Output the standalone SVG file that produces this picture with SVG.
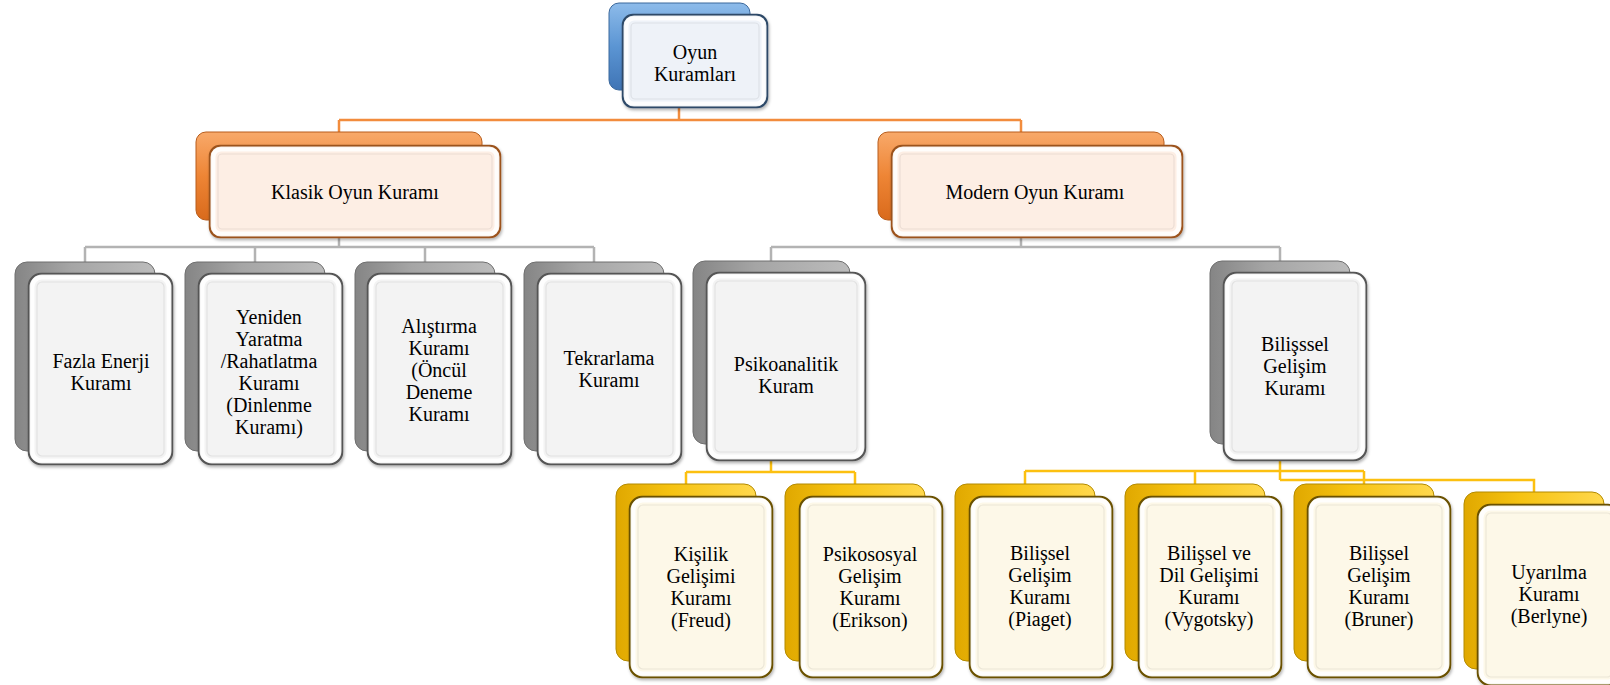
<svg xmlns="http://www.w3.org/2000/svg" width="1610" height="685" viewBox="0 0 1610 685">
<defs>
<linearGradient id="gB" x1="0" y1="0" x2="0" y2="1"><stop offset="0" stop-color="#8dbbea"/><stop offset="0.5" stop-color="#5b95d3"/><stop offset="1" stop-color="#3f74b5"/></linearGradient>
<linearGradient id="gO" x1="0" y1="0" x2="0" y2="1"><stop offset="0" stop-color="#f8a96a"/><stop offset="0.5" stop-color="#ee8535"/><stop offset="1" stop-color="#d96a1c"/></linearGradient>
<linearGradient id="gG" x1="0" y1="0" x2="1" y2="0"><stop offset="0" stop-color="#858585"/><stop offset="0.4" stop-color="#a5a5a5"/><stop offset="1" stop-color="#bcbcbc"/></linearGradient>
<linearGradient id="gY" x1="0" y1="0" x2="1" y2="0"><stop offset="0" stop-color="#e0a800"/><stop offset="0.4" stop-color="#f6c312"/><stop offset="1" stop-color="#ffd84d"/></linearGradient>
<filter id="sh" x="-10%" y="-10%" width="125%" height="125%"><feDropShadow dx="1" dy="2" stdDeviation="1.5" flood-color="#000" flood-opacity="0.3"/></filter>
</defs>
<style>
.co{stroke:#f28c3d;stroke-width:2.5;fill:none}
.cg{stroke:#b3b3b3;stroke-width:2.5;fill:none}
.cy{stroke:#fcc010;stroke-width:2.5;fill:none}
.t{font-family:"Liberation Serif","Times New Roman",serif;font-size:20px;text-anchor:middle;fill:#000}
.bb{fill:url(#gB);stroke:#3b689c;stroke-width:1}
.bo{fill:url(#gO);stroke:#b85d1c;stroke-width:1}
.bg{fill:url(#gG);stroke:#6f6f6f;stroke-width:1}
.by{fill:url(#gY);stroke:#b38a00;stroke-width:1}
.fb{fill:#eef2f8;stroke:#2d4a68;stroke-width:2.5;filter:url(#sh)}
.fo{fill:#fdeee4;stroke:#9c531d;stroke-width:2.5;filter:url(#sh)}
.fg{fill:#f3f3f3;stroke:#555;stroke-width:2.5;filter:url(#sh)}
.fy{fill:#fdf8e8;stroke:#6b5100;stroke-width:2.5;filter:url(#sh)}
.rim{fill:none;stroke:#fff;stroke-width:5;opacity:0.85}
.bev{fill:none;stroke:#000;stroke-width:1.2;opacity:0.07}
</style>

<g id="connectors">
<path class="co" d="M679,107 V120 M339,120 H1021 M339,120 V132 M1021,120 V132"/>
<path class="cg" d="M339,237 V247 M85,247 H594 M85,247 V262 M255,247 V262 M425,247 V262 M594,247 V262"/>
<path class="cg" d="M1021,237 V247 M771,247 H1280 M771,247 V261 M1280,247 V261"/>
<path class="cy" d="M771,460 V472 M686,472 H855 M686,472 V484 M855,472 V484"/>
<path class="cy" d="M1280,459 V480 M1025,471 H1364 M1025,471 V484 M1195,471 V484 M1364,471 V484 M1280,480 H1534 V492"/>
</g>

<g id="root">
<rect class="bb" x="609" y="3" width="141" height="87" rx="10"/>
<rect class="fb" x="623" y="15" width="144" height="92" rx="10"/>
<rect class="rim" x="626" y="18" width="138" height="86" rx="8"/>
<rect class="bev" x="631" y="23" width="128" height="76" rx="4"/>
<text class="t" x="695" y="59">Oyun<tspan x="695" dy="22">Kuramları</tspan></text>
</g>

<g id="klasik">
<rect class="bo" x="196" y="132" width="286" height="88" rx="10"/>
<rect class="fo" x="210" y="146" width="290" height="91" rx="10"/>
<rect class="rim" x="213" y="149" width="284" height="85" rx="8"/>
<rect class="bev" x="218" y="154" width="274" height="75" rx="4"/>
<text class="t" x="355" y="199">Klasik Oyun Kuramı</text>
</g>

<g id="modern">
<rect class="bo" x="878" y="132" width="286" height="88" rx="10"/>
<rect class="fo" x="892" y="146" width="290" height="91" rx="10"/>
<rect class="rim" x="895" y="149" width="284" height="85" rx="8"/>
<rect class="bev" x="900" y="154" width="274" height="75" rx="4"/>
<text class="t" x="1035" y="199">Modern Oyun Kuramı</text>
</g>

<g id="fazla">
<rect class="bg" x="15" y="262" width="140" height="189" rx="12"/>
<rect class="fg" x="29" y="274" width="143" height="190" rx="12"/>
<rect class="rim" x="32" y="277" width="137" height="184" rx="10"/>
<rect class="bev" x="37" y="282" width="127" height="174" rx="5"/>
<text class="t" x="101" y="368">Fazla Enerji<tspan x="101" dy="22">Kuramı</tspan></text>
</g>

<g id="yeniden">
<rect class="bg" x="185" y="262" width="140" height="189" rx="12"/>
<rect class="fg" x="199" y="274" width="143" height="190" rx="12"/>
<rect class="rim" x="202" y="277" width="137" height="184" rx="10"/>
<rect class="bev" x="207" y="282" width="127" height="174" rx="5"/>
<text class="t" x="269" y="323.5">Yeniden<tspan x="269" dy="22">Yaratma</tspan><tspan x="269" dy="22">/Rahatlatma</tspan><tspan x="269" dy="22">Kuramı</tspan><tspan x="269" dy="22">(Dinlenme</tspan><tspan x="269" dy="22">Kuramı)</tspan></text>
</g>

<g id="alistirma">
<rect class="bg" x="355" y="262" width="140" height="189" rx="12"/>
<rect class="fg" x="368" y="274" width="143" height="190" rx="12"/>
<rect class="rim" x="371" y="277" width="137" height="184" rx="10"/>
<rect class="bev" x="376" y="282" width="127" height="174" rx="5"/>
<text class="t" x="439" y="332.5">Alıştırma<tspan x="439" dy="22">Kuramı</tspan><tspan x="439" dy="22">(Öncül</tspan><tspan x="439" dy="22">Deneme</tspan><tspan x="439" dy="22">Kuramı</tspan></text>
</g>

<g id="tekrarlama">
<rect class="bg" x="524" y="262" width="140" height="189" rx="12"/>
<rect class="fg" x="538" y="274" width="143" height="190" rx="12"/>
<rect class="rim" x="541" y="277" width="137" height="184" rx="10"/>
<rect class="bev" x="546" y="282" width="127" height="174" rx="5"/>
<text class="t" x="609" y="365">Tekrarlama<tspan x="609" dy="22">Kuramı</tspan></text>
</g>

<g id="psikoanalitik">
<rect class="bg" x="693" y="261" width="157" height="183" rx="12"/>
<rect class="fg" x="707" y="273" width="158" height="187" rx="12"/>
<rect class="rim" x="710" y="276" width="152" height="181" rx="10"/>
<rect class="bev" x="715" y="281" width="142" height="171" rx="5"/>
<text class="t" x="786" y="371">Psikoanalitik<tspan x="786" dy="22">Kuram</tspan></text>
</g>

<g id="bilissel">
<rect class="bg" x="1210" y="261" width="140" height="183" rx="12"/>
<rect class="fg" x="1224" y="273" width="142" height="187" rx="12"/>
<rect class="rim" x="1227" y="276" width="136" height="181" rx="10"/>
<rect class="bev" x="1232" y="281" width="126" height="171" rx="5"/>
<text class="t" x="1295" y="350.5">Bilişssel<tspan x="1295" dy="22">Gelişim</tspan><tspan x="1295" dy="22">Kuramı</tspan></text>
</g>

<g id="freud">
<rect class="by" x="616" y="484" width="140" height="177" rx="12"/>
<rect class="fy" x="630" y="497" width="142" height="180" rx="12"/>
<rect class="rim" x="633" y="500" width="136" height="174" rx="10"/>
<rect class="bev" x="638" y="505" width="126" height="164" rx="5"/>
<text class="t" x="701" y="560.5">Kişilik<tspan x="701" dy="22">Gelişimi</tspan><tspan x="701" dy="22">Kuramı</tspan><tspan x="701" dy="22">(Freud)</tspan></text>
</g>

<g id="erikson">
<rect class="by" x="785" y="484" width="140" height="177" rx="12"/>
<rect class="fy" x="800" y="497" width="142" height="180" rx="12"/>
<rect class="rim" x="803" y="500" width="136" height="174" rx="10"/>
<rect class="bev" x="808" y="505" width="126" height="164" rx="5"/>
<text class="t" x="870" y="560.5">Psikososyal<tspan x="870" dy="22">Gelişim</tspan><tspan x="870" dy="22">Kuramı</tspan><tspan x="870" dy="22">(Erikson)</tspan></text>
</g>

<g id="piaget">
<rect class="by" x="955" y="484" width="140" height="177" rx="12"/>
<rect class="fy" x="970" y="497" width="142" height="180" rx="12"/>
<rect class="rim" x="973" y="500" width="136" height="174" rx="10"/>
<rect class="bev" x="978" y="505" width="126" height="164" rx="5"/>
<text class="t" x="1040" y="559.5">Bilişsel<tspan x="1040" dy="22">Gelişim</tspan><tspan x="1040" dy="22">Kuramı</tspan><tspan x="1040" dy="22">(Piaget)</tspan></text>
</g>

<g id="vygotsky">
<rect class="by" x="1125" y="484" width="140" height="177" rx="12"/>
<rect class="fy" x="1139" y="497" width="142" height="180" rx="12"/>
<rect class="rim" x="1142" y="500" width="136" height="174" rx="10"/>
<rect class="bev" x="1147" y="505" width="126" height="164" rx="5"/>
<text class="t" x="1209" y="559.5">Bilişsel ve<tspan x="1209" dy="22">Dil Gelişimi</tspan><tspan x="1209" dy="22">Kuramı</tspan><tspan x="1209" dy="22">(Vygotsky)</tspan></text>
</g>

<g id="bruner">
<rect class="by" x="1294" y="484" width="140" height="177" rx="12"/>
<rect class="fy" x="1308" y="497" width="142" height="180" rx="12"/>
<rect class="rim" x="1311" y="500" width="136" height="174" rx="10"/>
<rect class="bev" x="1316" y="505" width="126" height="164" rx="5"/>
<text class="t" x="1379" y="559.5">Bilişsel<tspan x="1379" dy="22">Gelişim</tspan><tspan x="1379" dy="22">Kuramı</tspan><tspan x="1379" dy="22">(Bruner)</tspan></text>
</g>

<g id="berlyne">
<rect class="by" x="1464" y="492" width="140" height="177" rx="12"/>
<rect class="fy" x="1478" y="505" width="142" height="180" rx="12"/>
<rect class="rim" x="1481" y="508" width="136" height="174" rx="10"/>
<rect class="bev" x="1486" y="513" width="126" height="164" rx="5"/>
<text class="t" x="1549" y="578.5">Uyarılma<tspan x="1549" dy="22">Kuramı</tspan><tspan x="1549" dy="22">(Berlyne)</tspan></text>
</g>
</svg>
